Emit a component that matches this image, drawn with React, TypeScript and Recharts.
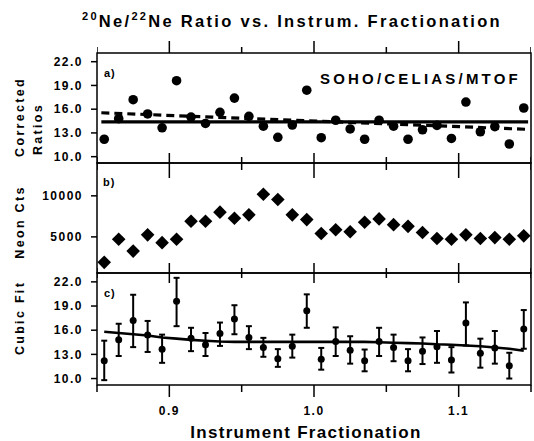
import React from "react";
import { ScatterChart, Scatter, XAxis, YAxis, ErrorBar, ReferenceArea } from "recharts";

// instrument fractionation of each sample bin
const fractionation = [
  0.855, 0.865, 0.875, 0.885, 0.895, 0.905, 0.915, 0.925, 0.935, 0.945,
  0.955, 0.965, 0.975, 0.985, 0.995, 1.005, 1.015, 1.025, 1.035, 1.045,
  1.055, 1.065, 1.075, 1.085, 1.095, 1.105, 1.115, 1.125, 1.135, 1.145,
];
const correctedRatios = [
  12.2, 14.8, 17.2, 15.4, 13.65, 19.6, 15.0, 14.2, 15.6, 17.4,
  15.1, 13.85, 12.45, 14.0, 18.4, 12.4, 14.6, 13.5, 12.2, 14.6,
  13.85, 12.2, 13.4, 13.95, 12.3, 16.9, 13.15, 13.8, 11.6, 16.15,
];
const ratioLow = [
  9.8, 12.8, 13.9, 13.3, 11.95, 16.5, 13.4, 12.8, 14.05, 15.5,
  13.65, 12.7, 11.45, 12.6, 16.3, 11.1, 12.8, 11.85, 10.9, 12.8,
  12.15, 10.9, 11.8, 11.95, 10.75, 14.1, 11.35, 11.85, 10.0, 13.7,
];
const ratioHigh = [
  14.7, 16.8, 20.4, 17.15, 15.45, 22.5, 16.3, 15.65, 16.95, 19.1,
  16.5, 15.05, 13.65, 15.45, 20.45, 13.8, 16.35, 15.25, 13.6, 16.3,
  15.45, 13.65, 15.1, 15.9, 13.9, 19.45, 14.95, 15.9, 13.2, 18.5,
];
const neonCounts = [
  1900, 4710, 3265, 5250, 4300, 4710, 6900, 6900, 8015, 7270,
  7685, 10200, 9545, 7685, 7105, 5415, 5870, 5620, 6775, 7190,
  6490, 6280, 5540, 4795, 4710, 5250, 4795, 4915, 4710, 5125,
];
const cubicFit = [
  15.8, 15.65, 15.5, 15.35, 15.1, 14.95, 14.8, 14.7, 14.6, 14.55,
  14.55, 14.55, 14.55, 14.55, 14.55, 14.55, 14.55, 14.55, 14.55, 14.5,
  14.45, 14.4, 14.35, 14.25, 14.2, 14.1, 14.0, 13.85, 13.7, 13.45,
];
// panel a fits: mean (solid) and linear (dashed)
const fitEndsX = [0.853, 1.148];
const meanFitY = [14.4, 14.4];
const linearFitY = [15.55, 13.45];

const majorTicks = [0.9, 1.0, 1.1];
const allXTicks = [0.85, 0.9, 0.95, 1.0, 1.05, 1.1, 1.15];
const ratioTicks = [10, 13, 16, 19, 22];
const countTicks = [5000, 10000];

const X_DOMAIN = [0.85, 1.15];
const RATIO_DOMAIN = [9.2, 23.1];
const COUNT_DOMAIN = [600, 14000];
const BAND_DOMAIN = [0, 12]; // strip above panel a, 12 px tall

const FONT = '"Liberation Sans", Arial, Helvetica, sans-serif';
const INK = "#000";

const ratioPoints = fractionation.map((x, i) => ({
  x,
  y: correctedRatios[i],
  err: [correctedRatios[i] - ratioLow[i], ratioHigh[i] - correctedRatios[i]],
}));
const countPoints = fractionation.map((x, i) => ({ x, y: neonCounts[i] }));
const cubicLine = fractionation.map((x, i) => ({ x, y: cubicFit[i] }));
const meanLine = fitEndsX.map((x, i) => ({ x, y: meanFitY[i] }));
const linearLine = fitEndsX.map((x, i) => ({ x, y: linearFitY[i] }));

const BigDot = (p: any) => <circle cx={p.cx} cy={p.cy} r={4.8} fill={INK} />;
const SmallDot = (p: any) => <circle cx={p.cx} cy={p.cy} r={3.5} fill={INK} />;
const Diamond = (p: any) => (
  <polygon
    points={`${p.cx},${p.cy - 6.8} ${p.cx + 6.8},${p.cy} ${p.cx},${p.cy + 6.8} ${p.cx - 6.8},${p.cy}`}
    fill={INK}
  />
);
const NoDot = () => <g />;

const isMajor = (v: number) => majorTicks.some((t) => Math.abs(t - v) < 1e-6);

// inward tick marks on one panel edge, drawn as short two-point series.
// lengths are in px (converted with the panel's units per px); + = upward
const edgeTicks = (
  name: string,
  domain: number[],
  plotH: number,
  edge: "top" | "bottom",
  maj: number,
  min: number
) => {
  const perPx = (domain[1] - domain[0]) / plotH;
  const y0 = edge === "top" ? domain[1] : domain[0];
  return allXTicks.map((t) => (
    <Scatter
      key={`${name}-${t}`}
      xAxisId="x"
      yAxisId="y"
      data={[
        { x: t, y: y0 },
        { x: t, y: y0 + (isMajor(t) ? maj : min) * perPx },
      ]}
      shape={NoDot}
      line={{ stroke: INK, strokeWidth: 1.5 }}
      isAnimationActive={false}
    />
  ));
};

// bottom axis of the lowest panel: outward tick and label
const XTick = (p: any) => {
  const v = p.payload.value;
  const major = isMajor(v);
  return (
    <g>
      <line x1={p.x} x2={p.x} y1={p.y} y2={p.y + (major ? 12 : 7)} stroke={INK} strokeWidth={1.5} />
      {major && (
        <text x={p.x} y={p.y + 30} textAnchor="middle" fill={INK}>
          {v.toFixed(1)}
        </text>
      )}
    </g>
  );
};

const hiddenX = (
  <XAxis xAxisId="x" type="number" dataKey="x" domain={X_DOMAIN} hide allowDataOverflow />
);

const frame = (domain: number[]) => (
  <ReferenceArea
    xAxisId="x"
    yAxisId="y"
    x1={X_DOMAIN[0]}
    x2={X_DOMAIN[1]}
    y1={domain[0]}
    y2={domain[1]}
    fill="none"
    fillOpacity={0}
    stroke={INK}
    strokeWidth={1.5}
    ifOverflow="visible"
  />
);

const ratioAxis = (
  <YAxis
    yAxisId="y"
    type="number"
    dataKey="y"
    domain={RATIO_DOMAIN}
    ticks={ratioTicks}
    interval={0}
    width={97}
    tickSize={6}
    tickMargin={8}
    axisLine={false}
    tickLine={{ stroke: INK, strokeWidth: 1.5 }}
    tick={{ fill: INK }}
    tickFormatter={(v: number) => v.toFixed(1)}
    allowDataOverflow
  />
);

const layer: React.CSSProperties = { position: "absolute", left: 0, top: 0 };

export default function App() {
  return (
    <div
      style={{
        position: "absolute",
        left: 0,
        top: 0,
        width: 534,
        height: 441,
        background: "#fff",
        overflow: "hidden",
        fontFamily: FONT,
        fontWeight: 700,
        fontSize: 12,
        letterSpacing: "1.5px",
      }}
    >
      {/* ticks standing above panel a */}
      <div style={layer}>
        <ScatterChart width={534} height={441} margin={{ top: 41, right: 3, bottom: 388, left: 97 }}>
          {hiddenX}
          <YAxis yAxisId="y" type="number" dataKey="y" domain={BAND_DOMAIN} hide allowDataOverflow />
          {edgeTicks("top", BAND_DOMAIN, 12, "bottom", 12, 6)}
        </ScatterChart>
      </div>

      {/* a) corrected ratios */}
      <div style={layer}>
        <ScatterChart width={534} height={441} margin={{ top: 53, right: 3, bottom: 278, left: 0 }}>
          {hiddenX}
          {ratioAxis}
          {frame(RATIO_DOMAIN)}
          {edgeTicks("aBot", RATIO_DOMAIN, 110, "bottom", 10, 6)}
          <Scatter xAxisId="x" yAxisId="y" data={ratioPoints} shape={BigDot} isAnimationActive={false} />
          <Scatter
            xAxisId="x"
            yAxisId="y"
            data={meanLine}
            shape={NoDot}
            line={{ stroke: INK, strokeWidth: 3.2 }}
            isAnimationActive={false}
          />
          <Scatter
            xAxisId="x"
            yAxisId="y"
            data={linearLine}
            shape={NoDot}
            line={{ stroke: INK, strokeWidth: 3.2, strokeDasharray: "8 5" }}
            isAnimationActive={false}
          />
        </ScatterChart>
      </div>

      {/* b) neon counts */}
      <div style={layer}>
        <ScatterChart width={534} height={441} margin={{ top: 163, right: 3, bottom: 168, left: 0 }}>
          {hiddenX}
          <YAxis
            yAxisId="y"
            type="number"
            dataKey="y"
            domain={COUNT_DOMAIN}
            ticks={countTicks}
            interval={0}
            width={97}
            tickSize={6}
            tickMargin={8}
            axisLine={false}
            tickLine={{ stroke: INK, strokeWidth: 1.5 }}
            tick={{ fill: INK }}
            allowDataOverflow
          />
          {frame(COUNT_DOMAIN)}
          {edgeTicks("bTop", COUNT_DOMAIN, 110, "top", -15, -7)}
          {edgeTicks("bBot", COUNT_DOMAIN, 110, "bottom", 10, 5)}
          <Scatter xAxisId="x" yAxisId="y" data={countPoints} shape={Diamond} isAnimationActive={false} />
        </ScatterChart>
      </div>

      {/* c) cubic fit with error bars, plus the shared x axis */}
      <div style={layer}>
        <ScatterChart width={534} height={441} margin={{ top: 273, right: 3, bottom: 56, left: 0 }}>
          <XAxis
            xAxisId="x"
            type="number"
            dataKey="x"
            domain={X_DOMAIN}
            ticks={allXTicks}
            interval={0}
            height={0.01}
            tickSize={0}
            tickMargin={0}
            axisLine={false}
            tickLine={false}
            tick={XTick}
            allowDataOverflow
          />
          {ratioAxis}
          {frame(RATIO_DOMAIN)}
          {edgeTicks("cTop", RATIO_DOMAIN, 112, "top", -10, -5)}
          <Scatter xAxisId="x" yAxisId="y" data={ratioPoints} shape={SmallDot} isAnimationActive={false}>
            <ErrorBar dataKey="err" direction="y" width={3} stroke={INK} strokeWidth={2} />
          </Scatter>
          <Scatter
            xAxisId="x"
            yAxisId="y"
            data={cubicLine}
            shape={NoDot}
            line={{ stroke: INK, strokeWidth: 2.6 }}
            isAnimationActive={false}
          />
        </ScatterChart>
      </div>

      {/* titles and annotations */}
      <svg width={534} height={441} style={{ ...layer, pointerEvents: "none" }} fill={INK}>
        <text x={82} y={27} fontSize={16.5} letterSpacing={2.3}>
          <tspan fontSize={11} dy={-7}>20</tspan>
          <tspan dy={7}>Ne/</tspan>
          <tspan fontSize={11} dy={-7}>22</tspan>
          <tspan dy={7}>Ne Ratio vs. Instrum. Fractionation</tspan>
        </text>
        <text x={320} y={84} fontSize={15} letterSpacing={3.2}>SOHO/CELIAS/MTOF</text>
        <text x={104} y={77} fontSize={11} letterSpacing={1}>a)</text>
        <text x={103} y={186} fontSize={11} letterSpacing={1}>b)</text>
        <text x={104} y={297} fontSize={11} letterSpacing={1}>c)</text>
        <text transform="translate(24 117) rotate(-90)" textAnchor="middle" fontSize={12.5} letterSpacing={2.3}>
          Corrected
        </text>
        <text transform="translate(42 129) rotate(-90)" textAnchor="middle" fontSize={12.5} letterSpacing={2.3}>
          Ratios
        </text>
        <text transform="translate(24 222) rotate(-90)" textAnchor="middle" fontSize={12.5} letterSpacing={2.3}>
          Neon Cts
        </text>
        <text transform="translate(24 318) rotate(-90)" textAnchor="middle" fontSize={12.5} letterSpacing={2.3}>
          Cubic Fit
        </text>
        <text x={306} y={438} textAnchor="middle" fontSize={17} letterSpacing={1.3}>
          Instrument Fractionation
        </text>
      </svg>
    </div>
  );
}
